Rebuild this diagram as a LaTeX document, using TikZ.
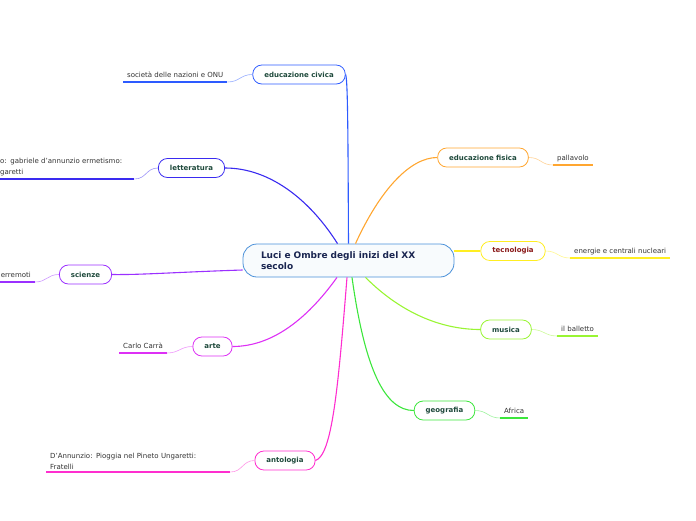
\documentclass[tikz,border=0pt]{standalone}
\usepackage{fontspec}
\setmainfont{DejaVu Sans}

\definecolor{hubcol}{HTML}{4A90D9}
\definecolor{hubtext}{HTML}{1A2550}
\definecolor{topictext}{HTML}{1F4A3C}
\definecolor{tecnotext}{HTML}{8B1A1A}
\definecolor{leaftext}{HTML}{333333}
\definecolor{civicacol}{HTML}{2D5BFF}
\definecolor{letteracol}{HTML}{3A2BF0}
\definecolor{scienzecol}{HTML}{9B30FF}
\definecolor{artecol}{HTML}{DD30F5}
\definecolor{antocol}{HTML}{FF2ECF}
\definecolor{fisicacol}{HTML}{FFA630}
\definecolor{tecnocol}{HTML}{FFEE22}
\definecolor{musicacol}{HTML}{99F533}
\definecolor{geocol}{HTML}{3CE63C}

\begin{document}
\begin{tikzpicture}[x=1pt, y=-1pt,
	hub/.style={rectangle, rounded corners=14pt, draw=hubcol, line width=0.8pt, fill=hubcol!4, text width=175pt, align=left, minimum height=33pt, inner xsep=18pt, font=\bfseries\fontsize{9}{11}\selectfont, text=hubtext},
	topic/.style={rectangle, rounded corners=9pt, draw, line width=0.8pt, fill=white, minimum height=19pt, inner xsep=11.5pt, inner ysep=2pt, font=\bfseries\fontsize{7}{8}\selectfont, text=topictext},
	leaf/.style={inner xsep=4pt, inner ysep=2.5pt, text depth=1.5pt, font=\fontsize{7}{11}\selectfont, text=leaftext},
	mleaf/.style={inner xsep=4pt, inner ysep=2.5pt, align=left, font=\fontsize{7}{11}\selectfont, text=leaftext},
	branch/.style={line width=1.1pt},
	twig/.style={line width=0.6pt},
	underline/.style={line width=1.5pt}]
	\useasboundingbox (0,0) rectangle (696,520);
	\clip (0,0) rectangle (696,520);

	% Topics
	\node[hub] (luci) at (348.5,260.5) {Luci e Ombre degli inizi del XX\\secolo};
	\node[topic, draw=civicacol] (civica) at (299,74.5) {educazione civica};
	\node[topic, draw=letteracol] (letteratura) at (191.5,168) {letteratura};
	\node[topic, draw=scienzecol] (scienze) at (85.5,274.5) {scienze};
	\node[topic, draw=artecol] (arte) at (212.5,346.5) {arte};
	\node[topic, draw=antocol] (antologia) at (285,460.5) {antologia};
	\node[topic, draw=fisicacol] (fisica) at (483,157.5) {educazione fisica};
	\node[topic, draw=tecnocol, text=tecnotext] (tecnologia) at (513,251) {tecnologia};
	\node[topic, draw=musicacol] (musica) at (506,329.5) {musica};
	\node[topic, draw=geocol] (geografia) at (444.5,410.5) {geografia};

	% Leaves
	\node[leaf, anchor=south west] (onu) at (123,82) {società delle nazioni e ONU};
	\node[mleaf, anchor=south west, text width=130pt] (dannunzio) at (-4,179) {o: gabriele d'annunzio ermetismo:\\garetti};
	\node[leaf, anchor=south east] (terremoti) at (35,282) {erremoti};
	\node[leaf, anchor=south west] (carra) at (119,353) {Carlo Carrà};
	\node[mleaf, anchor=south west, text width=176pt] (pioggia) at (46,472) {D'Annunzio: Pioggia nel Pineto Ungaretti:\\Fratelli};
	\node[leaf, anchor=south west] (pallavolo) at (553,165) {pallavolo};
	\node[leaf, anchor=south west] (energie) at (570,258) {energie e centrali nucleari};
	\node[leaf, anchor=south west] (balletto) at (557,336) {il balletto};
	\node[leaf, anchor=south west] (africa) at (500,418) {Africa};

	% Branches
	\draw[branch, civicacol] (luci.north) .. controls (348,150) and (348,80) .. (civica.east);
	\draw[branch, letteracol] ([xshift=-11pt]luci.north) .. controls (310,200) and (270,168) .. (letteratura.east);
	\draw[branch, scienzecol] ([yshift=-9.5pt]luci.west) .. controls (180,272) and (140,275) .. (scienze.east);
	\draw[branch, artecol] ([xshift=-11.5pt]luci.south) .. controls (305,322) and (270,346.5) .. (arte.east);
	\draw[branch, antocol] ([xshift=-1.5pt]luci.south) .. controls (338,390) and (332,455) .. (antologia.east);
	\draw[branch, fisicacol] ([xshift=7pt]luci.north) .. controls (380,190) and (410,157.5) .. (fisica.west);
	\draw[branch, tecnocol] ([yshift=9.5pt]luci.east) -- (tecnologia.west);
	\draw[branch, musicacol] ([xshift=17pt]luci.south) .. controls (400,312) and (440,329.5) .. (musica.west);
	\draw[branch, geocol] ([xshift=3.5pt]luci.south) .. controls (365,370) and (385,410.5) .. (geografia.west);

	% Twigs and underlines
	\draw[twig, civicacol!50] (civica.west) .. controls +(-12,0) and +(12,0) .. (onu.south east);
	\draw[underline, civicacol] (onu.south west) -- (onu.south east);
	\draw[twig, letteracol!50] (letteratura.west) .. controls +(-12,0) and +(12,0) .. (dannunzio.south east);
	\draw[underline, letteracol] (dannunzio.south west) -- (dannunzio.south east);
	\draw[twig, scienzecol!50] (scienze.west) .. controls +(-12,0) and +(12,0) .. (terremoti.south east);
	\draw[underline, scienzecol] (terremoti.south west) -- (terremoti.south east);
	\draw[twig, artecol!50] (arte.west) .. controls +(-12,0) and +(12,0) .. (carra.south east);
	\draw[underline, artecol] (carra.south west) -- (carra.south east);
	\draw[twig, antocol!50] (antologia.west) .. controls +(-12,0) and +(12,0) .. (pioggia.south east);
	\draw[underline, antocol] (pioggia.south west) -- (pioggia.south east);
	\draw[twig, fisicacol!50] (fisica.east) .. controls +(12,0) and +(-12,0) .. (pallavolo.south west);
	\draw[underline, fisicacol] (pallavolo.south west) -- (pallavolo.south east);
	\draw[twig, tecnocol!50] (tecnologia.east) .. controls +(12,0) and +(-12,0) .. (energie.south west);
	\draw[underline, tecnocol] (energie.south west) -- (energie.south east);
	\draw[twig, musicacol!50] (musica.east) .. controls +(12,0) and +(-12,0) .. (balletto.south west);
	\draw[underline, musicacol] (balletto.south west) -- (balletto.south east);
	\draw[twig, geocol!50] (geografia.east) .. controls +(12,0) and +(-12,0) .. (africa.south west);
	\draw[underline, geocol] (africa.south west) -- (africa.south east);
\end{tikzpicture}
\end{document}
